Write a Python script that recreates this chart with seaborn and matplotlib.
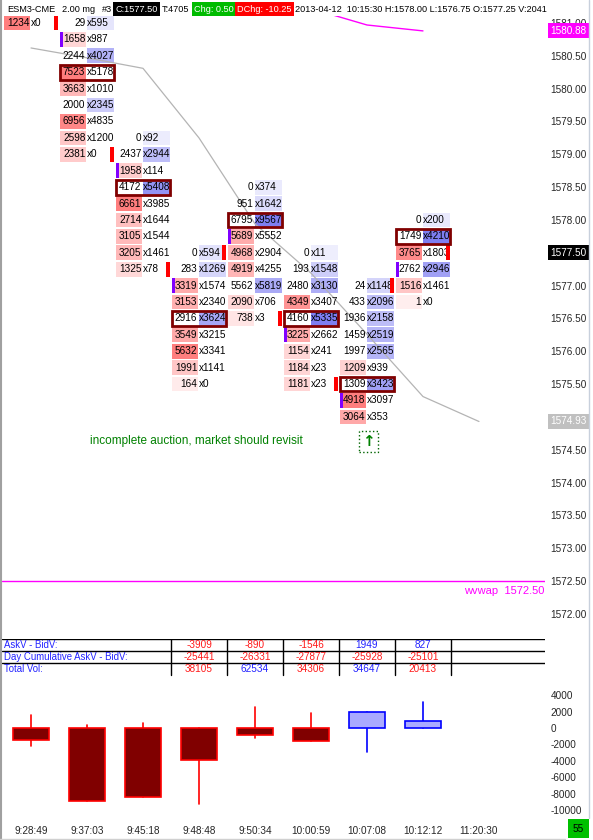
import matplotlib
matplotlib.use("Agg")
import numpy as np
import matplotlib.pyplot as plt
import matplotlib.transforms as mtransforms
from matplotlib.patches import Rectangle
import seaborn as sns

sns.set_theme(style="white")
plt.rcParams['font.family'] = ['Liberation Sans', 'DejaVu Sans']

# ---------------- data ----------------
times = ["9:28:49", "9:37:03", "9:45:18", "9:48:48", "9:50:34",
         "10:00:59", "10:07:08", "10:12:12", "11:20:30"]

# footprint: highest price of each bar, then (bid, ask) rows going down by one tick
bar_top = [1581.00, 1581.00, 1579.25, 1577.50, 1578.50, 1577.50, 1577.00, 1578.00]
bids = [
    [1234],
    [29, 1658, 2244, 7523, 3663, 2000, 6956, 2598, 2381],
    [0, 2437, 1958, 4172, 6661, 2714, 3105, 3205, 1325],
    [0, 283, 3319, 3153, 2916, 3549, 5632, 1991, 164],
    [0, 951, 6795, 5689, 4968, 4919, 5562, 2090, 738],
    [0, 193, 2480, 4349, 4160, 3225, 1154, 1184, 1181],
    [24, 433, 1936, 1459, 1997, 1209, 1309, 4918, 3064],
    [0, 1749, 3765, 2762, 1516, 1],
]
asks = [
    [0],
    [595, 987, 4027, 5178, 1010, 2345, 4835, 1200, 0],
    [92, 2944, 114, 5408, 3985, 1644, 1544, 1461, 78],
    [594, 1269, 1574, 2340, 3624, 3215, 3341, 1141, 0],
    [374, 1642, 9567, 5552, 2904, 4255, 5819, 706, 3],
    [11, 1548, 3130, 3407, 5335, 2662, 241, 23, 23],
    [1148, 2096, 2158, 2519, 2565, 939, 3423, 3097, 353],
    [200, 4210, 1803, 2946, 1461, 0],
]
open_px = [None, 1580.75, 1578.75, 1577.00, 1577.75, 1576.25, 1575.25, 1577.25]
close_px = [1581.00, 1579.00, 1577.25, 1577.50, 1576.50, 1575.50, 1577.00, 1577.50]
poc_px = [None, 1580.25, 1578.50, 1576.50, 1578.00, 1576.50, 1575.50, 1577.75]

ma_line = [1580.62, 1580.47, 1580.31, 1579.25, 1577.94, 1577.19, 1576.26, 1575.31, 1574.93]
mag_x = [5, 6, 7]
mag_line = [1581.22, 1580.97, 1580.88]
wvwap = 1572.50
last_px = 1577.50

# table (bars 3..7)
tab_cols = [3, 4, 5, 6, 7]
delta = [-3909, -890, -1546, 1949, 827]
cum_delta = [-25441, -26331, -27877, -25928, -25101]
total_vol = [38105, 62534, 34306, 34647, 20413]
vol_up = [False, True, False, True, False]

# delta candles per bar
d_close = [-1475, -8850, -8400, -3909, -890, -1546, 1949, 827]
d_high = [1640, 410, 570, 0, 2540, 1800, 1949, 3110]
d_low = [-2170, -8850, -8400, -9260, -1270, -1546, -2870, 0]

RED = '#FF1A1A'
BLUE = '#2222FF'
FS = 7.2
W, H = 593, 840


def frame(l, t, r, b):
    return [l / W, 1 - b / H, (r - l) / W, (b - t) / H]


def shade(base, t):
    a = 0.12 + 0.78 * min(1.0, t)
    return tuple(1 - a * (1 - c) for c in base)


BID_BASE = (1.0, 0.44, 0.44)
ASK_BASE = (0.44, 0.44, 0.94)

fig = plt.figure(figsize=(W / 100, H / 100), dpi=100)
fig.patch.set_facecolor('white')
XL = (-0.518, 9.179)

# ---------------- footprint ----------------
ax = fig.add_axes(frame(2, 16, 545, 638))
ax.set_xlim(*XL)
ax.set_ylim(1571.632, 1581.107)
for s in ax.spines.values():
    s.set_visible(False)
ax.set_xticks([])
ax.yaxis.tick_right()
yt = np.arange(1572.0, 1581.01, 0.5)
ax.set_yticks(yt)
# 1575.00 sits under the last-MA label box
ax.set_yticklabels(["" if abs(v - 1575.0) < 1e-6 else f"{v:.2f}" for v in yt])
ax.tick_params(axis='y', length=0, pad=4, labelsize=FS)

tick = 0.25
ch = tick * 0.9
for i in range(len(bar_top)):
    b, a = bids[i], asks[i]
    cmax = max(max(b), max(a))
    for j in range(len(b)):
        p = bar_top[i] - tick * j
        y0 = p - ch / 2
        if b[j] > a[j]:
            ax.add_patch(Rectangle((i - 0.48, y0), 0.47, ch, lw=0,
                                   fc=shade(BID_BASE, b[j] / cmax), zorder=1))
        elif a[j] > b[j]:
            ax.add_patch(Rectangle((i + 0.0, y0), 0.48, ch, lw=0,
                                   fc=shade(ASK_BASE, a[j] / cmax), zorder=1))
        ax.text(i - 0.03, p, f"{b[j]}", ha='right', va='center', fontsize=FS,
                color='black', zorder=3)
        ax.text(i + 0.0, p, f"x{a[j]}", ha='left', va='center', fontsize=FS,
                color='black', zorder=3)
    if open_px[i] is not None:
        ax.add_patch(Rectangle((i - 0.485, open_px[i] - ch / 2), 0.055, ch,
                               lw=0, fc='#8000FF', zorder=4))
    ax.add_patch(Rectangle((i + 0.415, close_px[i] - ch / 2), 0.07, ch,
                           lw=0, fc='#FF0000', zorder=4))
    if poc_px[i] is not None:
        ax.add_patch(Rectangle((i - 0.485, poc_px[i] - ch / 2), 0.97, ch,
                               lw=2, ec='#800000', fc='none', zorder=5))

sns.lineplot(x=list(range(len(ma_line))), y=ma_line, ax=ax, color='#B4B4B4',
             lw=0.9, zorder=2)
sns.lineplot(x=mag_x, y=mag_line, ax=ax, color='#FF00FF', lw=1.0, zorder=2)
ax.axhline(wvwap, color='#FF00FF', lw=1.0)
ax.text(9.16, wvwap - 0.07, f"wvwap  {wvwap:.2f}", ha='right', va='top',
        color='#FF00FF', fontsize=8)

ax.text(1.05, 1574.63, "incomplete auction, market should revisit",
        ha='left', va='center', color='#008000', fontsize=8.5)
ax.text(6.02, 1574.63, "\u2191", ha='center', va='center', color='#008000',
        fontsize=11, fontweight='bold', family=['DejaVu Sans'],
        bbox=dict(boxstyle='square,pad=0.2', fc='white', ec='#006400',
                  ls=':', lw=1))

trans = mtransforms.blended_transform_factory(ax.transAxes, ax.transData)
for val, bg in [(last_px, 'black'), (ma_line[-1], '#C0C0C0'),
                (mag_line[-1], '#FF00FF')]:
    ax.text(1 + 5.0 / 543, val, f"{val:.2f}", transform=trans, ha='left',
            va='center', color='white', fontsize=FS, zorder=10, clip_on=False,
            bbox=dict(boxstyle='square,pad=0.25', fc=bg, ec='none'))

# ---------------- table ----------------
axt = fig.add_axes(frame(2, 639, 545, 681))
axt.set_xlim(*XL)
axt.set_ylim(3.5, 0)
axt.axis('off')
for yy in [0, 1, 2]:
    axt.axhline(yy, color='black', lw=1.0)
for xx in np.arange(2.5, 8.0, 1.0):
    axt.plot([xx, xx], [0, 3], color='black', lw=1.0)
row_names = ["AskV - BidV:", "Day Cumulative AskV - BidV:", "Total Vol:"]
for r, name in enumerate(row_names):
    axt.text(-0.48, r + 0.5, name, ha='left', va='center', color=BLUE, fontsize=6.9)
for k, c in enumerate(tab_cols):
    axt.text(c, 0.5, f"{delta[k]}", ha='center', va='center', fontsize=FS,
             color=RED if delta[k] < 0 else BLUE)
    axt.text(c, 1.5, f"{cum_delta[k]}", ha='center', va='center', fontsize=FS,
             color=RED if cum_delta[k] < 0 else BLUE)
    axt.text(c, 2.5, f"{total_vol[k]}", ha='center', va='center', fontsize=FS,
             color=BLUE if vol_up[k] else RED)

# ---------------- delta candles ----------------
axd = fig.add_axes(frame(2, 684, 545, 815))
axd.set_xlim(*XL)
axd.set_ylim(-10610, 5366)
for s in axd.spines.values():
    s.set_visible(False)
axd.yaxis.tick_right()
axd.set_yticks(np.arange(-10000, 4001, 2000))
axd.set_yticklabels([f"{v}" for v in np.arange(-10000, 4001, 2000)])
axd.set_xticks(range(len(times)))
axd.set_xticklabels(times)
axd.tick_params(axis='both', length=0, labelsize=FS)
axd.tick_params(axis='y', pad=4)
axd.tick_params(axis='x', pad=8)
for i, c in enumerate(d_close):
    up = c > 0
    ec = '#0000FF' if up else '#FF0000'
    fc = '#AAAAFF' if up else '#800000'
    axd.plot([i, i], [d_low[i], d_high[i]], color=ec, lw=1.2, zorder=1)
    axd.bar(i, c, bottom=0, width=0.63, color=fc, edgecolor=ec, lw=1.2, zorder=2)

# ---------------- header / frame decorations ----------------
ov = fig.add_axes([0, 0, 1, 1], zorder=20)
ov.set_xlim(0, W)
ov.set_ylim(H, 0)
ov.axis('off')
header = [
    (7, "ESM3-CME", 'black', None),
    (62, "2.00 mg", 'black', None),
    (102, "#3", 'black', None),
    (115, "C:1577.50", 'white', 'black'),
    (162, "T:4705", 'black', None),
    (194, "Chg: 0.50", 'white', '#00BB00'),
    (237, "DChg: -10.25", 'white', '#FF0000'),
    (295, "2013-04-12  10:15:30 H:1578.00 L:1576.75 O:1577.25 V:2041", 'black', None),
]
for x0, s, fg, bg in header:
    kw = {}
    if bg is not None:
        kw['bbox'] = dict(boxstyle='square,pad=0.25', fc=bg, ec='none')
    ov.text(x0, 9, s, ha='left', va='center', color=fg, fontsize=6.6, **kw)
ov.plot([0.5, 0.5], [0, H], color='#A0A0A0', lw=1.5)
ov.plot([588.5, 588.5], [0, 818], color='#C8D0DC', lw=1.0)
ov.plot([0, 565], [838.5, 838.5], color='#D0D0D0', lw=1.0)
ov.text(578.5, 828.5, "55", ha='center', va='center', color='black', fontsize=FS,
        bbox=dict(boxstyle='square,pad=0.45', fc='#00C000', ec='none'))

fig.savefig("out.png", dpi=100)
